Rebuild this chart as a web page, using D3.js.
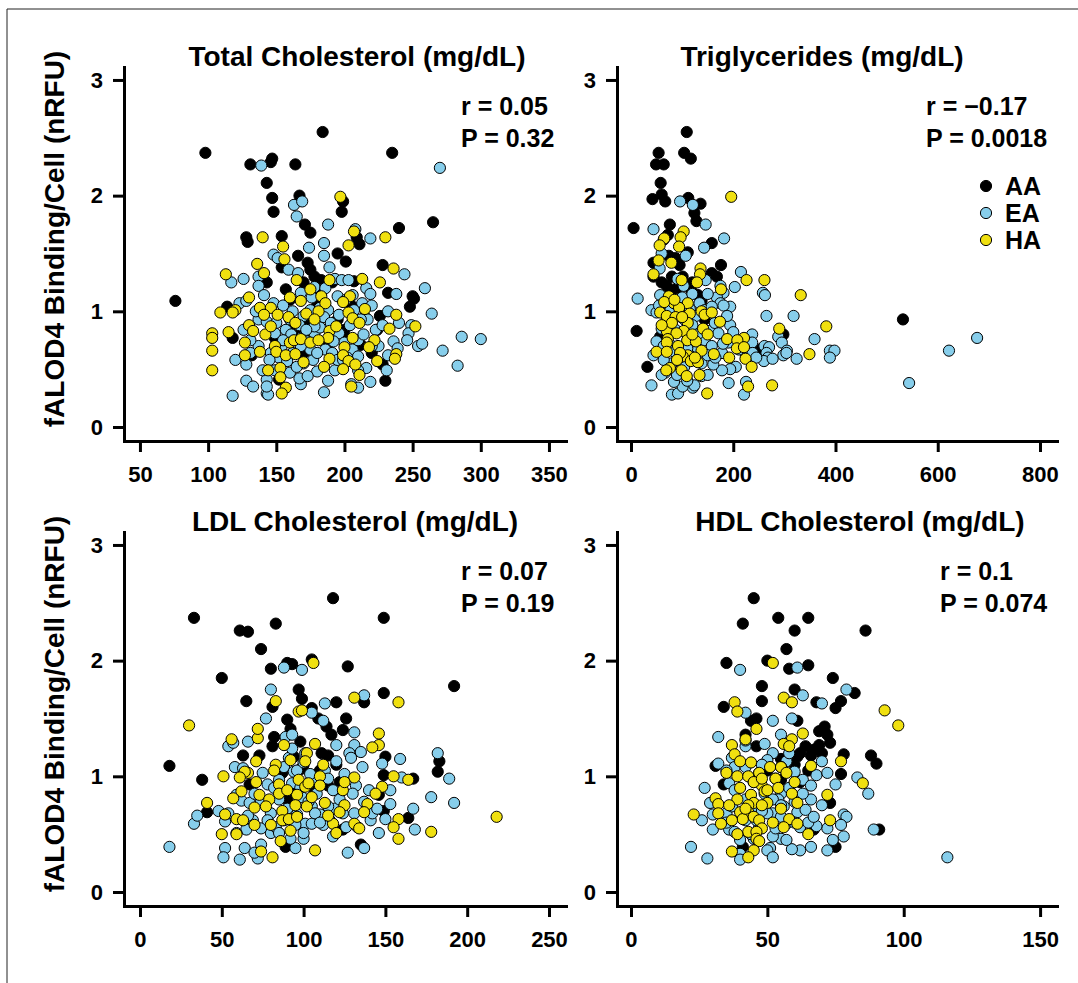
<!DOCTYPE html>
<html>
<head>
<meta charset="utf-8">
<script src="https://cdn.jsdelivr.net/npm/d3@7"></script>
<style>
body{margin:0;background:#fff;}
svg text{font-family:"Liberation Sans",Arial,Helvetica,sans-serif;font-weight:bold;fill:#000;}
</style>
</head>
<body>
<svg id="chart" width="1078" height="983"></svg>
<script>
// group names and colours
const groups = ["AA", "EA", "HA"];
const groupFill = ["#000000", "#87ceeb", "#f0e010"];

const titles = ["Total Cholesterol (mg/dL)", "Triglycerides (mg/dL)", "LDL Cholesterol (mg/dL)", "HDL Cholesterol (mg/dL)"];
const statR = ["r = 0.05", "r = \u22120.17", "r = 0.07", "r = 0.1"];
const statP = ["P = 0.32", "P = 0.0018", "P = 0.19", "P = 0.074"];

const yTicks = [0, 1, 2, 3];
const tcTicks = [50, 100, 150, 200, 250, 300, 350];
const trTicks = [0, 200, 400, 600, 800];
const ldTicks = [0, 50, 100, 150, 200, 250];
const hdTicks = [0, 50, 100, 150];

// Total cholesterol
const tcAA = [[76,1.09],[98,2.37],[131,2.27],[146,2.29],[147,2.32],[164,2.27],[184,2.55],[235,2.37],[143,2.11],[147,1.98],[148,1.86],[167,2.00],[199,1.95],[198,1.86],[265,1.77],[240,1.72],[171,1.75],[175,1.68],[128,1.64],[129,1.60],[154,1.65],[209,1.64],[211,1.58],[195,1.50],[201,1.43],[166,1.48],[173,1.42],[175,1.36],[178,1.30],[228,1.40],[154,1.38],[143,1.25],[157,1.19],[183,1.27],[191,1.25],[207,1.26],[232,1.16],[250,1.13],[251,1.11],[248,1.04],[114,1.04],[118,0.77],[149,0.77],[173,0.91],[195,0.93],[226,0.96],[224,0.84],[228,0.54],[230,0.40],[212,0.71],[220,0.64],[187,0.70],[152,0.41],[132,0.62],[165,0.81],[200,0.84],[160,1.10],[170,0.64],[183,1.16],[199,0.81],[180,1.05],[186,1.00],[170,1.25],[205,1.05],[215,0.95],[160,0.86],[177,0.78]];
const tcEA = [[139,2.26],[270,2.24],[163,1.92],[169,1.95],[165,1.82],[188,1.75],[185,1.59],[174,1.55],[208,1.71],[219,1.63],[148,1.49],[151,1.46],[185,1.48],[189,1.38],[159,1.36],[166,1.33],[244,1.32],[117,1.25],[126,1.28],[137,1.30],[137,1.22],[193,1.28],[198,1.27],[203,1.27],[216,1.20],[219,1.15],[259,1.20],[238,1.15],[141,1.14],[178,1.21],[168,1.16],[123,1.07],[128,1.09],[148,1.07],[195,1.13],[206,1.14],[213,1.07],[232,1.00],[264,0.98],[249,0.88],[247,0.81],[246,0.75],[254,0.70],[257,0.72],[236,0.74],[239,0.68],[232,0.62],[272,0.66],[286,0.78],[300,0.76],[283,0.53],[120,0.58],[128,0.54],[118,0.27],[128,0.40],[133,0.35],[143,0.29],[144,0.28],[143,0.41],[143,0.35],[168,0.37],[185,0.30],[205,0.37],[210,0.34],[219,0.39],[216,0.51],[193,0.49],[180,0.48],[167,0.42],[160,0.47],[170,0.55],[177,0.58],[152,0.60],[137,0.70],[131,0.75],[126,0.84],[137,0.93],[143,0.91],[157,0.84],[161,0.80],[168,0.77],[173,0.74],[178,0.81],[182,0.86],[186,0.67],[191,0.64],[196,0.81],[200,0.73],[206,0.67],[210,0.61],[217,0.93],[223,0.84],[170,0.96],[175,1.01],[182,1.03],[188,1.01],[160,0.93],[154,0.70],[146,0.64],[195,0.58],[225,0.70],[210,0.75],[175,0.67],[162,0.64],[207,1.01],[201,1.10],[212,0.93],[178,0.87],[149,0.81],[131,0.64],[140,0.49],[149,0.49],[199,0.58],[210,0.49],[231,0.49],[173,0.44],[168,0.70],[155,1.05],[162,1.00],[167,0.88],[172,0.84],[185,0.95],[190,0.90],[196,0.97],[204,0.88],[214,0.80],[220,0.70],[158,0.57],[165,0.52],[150,0.90],[155,0.75],[180,0.64],[192,0.74],[202,0.60],[228,0.88],[240,0.90],[135,1.00],[176,1.12],[186,1.20],[220,1.05],[145,0.58],[188,0.40]];
const tcHA = [[197,1.99],[140,1.64],[207,1.69],[203,1.57],[230,1.64],[155,1.56],[156,1.45],[136,1.41],[236,1.37],[113,1.32],[141,1.33],[165,1.27],[213,1.28],[226,1.25],[189,1.27],[175,1.19],[130,1.12],[183,1.13],[204,1.13],[168,1.09],[186,1.07],[199,1.08],[109,0.99],[120,1.01],[118,0.99],[138,1.03],[146,1.03],[141,0.97],[151,0.97],[181,1.00],[203,0.99],[206,0.94],[211,0.90],[238,0.97],[159,0.95],[164,0.90],[130,0.88],[133,0.83],[103,0.81],[103,0.77],[115,0.82],[142,0.80],[189,0.83],[188,0.77],[206,0.77],[233,0.85],[252,0.87],[127,0.73],[160,0.73],[163,0.75],[168,0.76],[175,0.73],[181,0.75],[222,0.75],[103,0.66],[127,0.62],[138,0.65],[149,0.70],[150,0.65],[157,0.62],[164,0.63],[200,0.69],[199,0.62],[218,0.69],[238,0.63],[237,0.59],[189,0.59],[203,0.57],[208,0.54],[103,0.49],[144,0.49],[153,0.51],[185,0.52],[199,0.50],[211,0.45],[153,0.43],[157,0.34],[154,0.29],[205,0.35],[172,0.98],[178,0.93],[194,0.87],[215,1.02],[160,1.12],[146,0.87],[224,0.57],[170,0.56]];

// Triglycerides
const trAA = [[5,1.72],[11,0.83],[32,0.52],[54,2.37],[49,2.27],[64,2.27],[58,2.11],[42,1.97],[60,2.01],[67,1.95],[109,2.55],[104,2.37],[117,2.32],[112,1.98],[136,1.93],[124,1.85],[128,1.78],[76,1.75],[72,1.66],[64,1.62],[158,1.59],[111,1.51],[74,1.48],[87,1.46],[44,1.42],[176,1.40],[158,1.33],[168,1.30],[101,1.30],[44,1.30],[60,1.25],[70,1.22],[117,1.19],[131,1.14],[138,1.09],[532,0.93],[298,0.80],[251,0.67],[57,0.78],[90,0.97],[144,0.93],[77,1.16],[90,1.20],[100,1.05],[80,1.30],[120,1.25],[95,1.40],[60,1.05],[115,0.85]];
const trEA = [[96,1.95],[121,1.92],[146,1.75],[44,1.71],[182,1.63],[143,1.55],[107,1.48],[60,1.50],[56,1.37],[215,1.34],[146,1.27],[91,1.28],[103,1.22],[203,1.21],[175,1.22],[181,1.16],[258,1.16],[262,1.14],[13,1.11],[57,1.14],[168,1.12],[175,1.07],[194,1.04],[181,1.05],[134,1.07],[40,1.01],[50,0.99],[265,0.96],[318,0.96],[194,0.88],[154,0.83],[164,0.90],[359,0.76],[237,0.80],[288,0.78],[295,0.73],[305,0.66],[298,0.62],[304,0.64],[261,0.70],[270,0.69],[265,0.64],[268,0.60],[260,0.57],[277,0.59],[324,0.59],[389,0.66],[398,0.66],[389,0.60],[677,0.77],[622,0.66],[544,0.38],[237,0.73],[205,0.52],[194,0.50],[178,0.49],[161,0.54],[191,0.38],[225,0.39],[221,0.28],[40,0.36],[80,0.28],[92,0.29],[121,0.34],[124,0.36],[101,0.35],[84,0.39],[67,0.47],[80,0.55],[44,0.62],[50,0.74],[64,0.70],[131,0.67],[144,0.75],[158,0.70],[178,0.64],[121,0.81],[111,0.75],[70,0.93],[87,0.84],[104,0.93],[127,0.96],[144,1.01],[158,1.04],[77,1.01],[64,0.58],[104,0.52],[138,0.55],[117,0.61],[225,0.61],[238,0.64],[211,0.67],[190,0.73],[171,0.81],[188,0.96],[138,0.44],[60,0.85],[75,0.72],[85,0.65],[95,0.60],[110,0.68],[120,0.88],[130,0.80],[150,0.62],[165,0.60],[180,0.72],[200,0.82],[215,0.70],[55,1.05],[100,1.12],[120,1.15],[150,1.15],[245,0.60],[60,0.45],[90,0.45],[110,0.40],[150,0.45],[115,1.02]];
const trHA = [[196,1.99],[103,1.69],[97,1.64],[94,1.56],[65,1.63],[56,1.57],[79,1.42],[54,1.44],[44,1.32],[136,1.37],[135,1.32],[129,1.25],[99,1.27],[226,1.27],[261,1.27],[176,1.19],[332,1.14],[74,1.13],[84,1.07],[65,1.08],[111,1.07],[57,0.99],[70,0.96],[94,1.03],[115,0.98],[138,1.00],[144,0.97],[158,0.99],[87,0.95],[174,0.91],[111,0.90],[382,0.87],[290,0.85],[141,0.85],[70,0.83],[103,0.83],[89,0.81],[72,0.76],[110,0.75],[127,0.74],[188,0.76],[221,0.77],[208,0.75],[70,0.73],[92,0.70],[207,0.68],[221,0.69],[50,0.65],[70,0.65],[138,0.66],[162,0.63],[349,0.63],[111,0.62],[101,0.61],[96,0.64],[192,0.60],[224,0.59],[117,0.57],[131,0.56],[236,0.52],[76,0.51],[69,0.49],[99,0.49],[134,0.45],[109,0.44],[229,0.35],[276,0.36],[149,0.29],[80,0.90],[120,0.80],[100,0.95],[85,1.10],[60,0.88],[150,0.80],[125,0.60],[90,0.58]];

// LDL cholesterol
const ldAA = [[18,1.09],[33,2.37],[61,2.26],[66,2.25],[83,2.32],[118,2.54],[149,2.37],[74,2.10],[50,1.85],[80,1.93],[90,1.98],[93,1.97],[127,1.95],[105,2.01],[192,1.78],[65,1.65],[97,1.75],[99,1.67],[120,1.64],[149,1.72],[137,1.64],[81,1.60],[105,1.59],[109,1.50],[114,1.43],[126,1.50],[124,1.40],[90,1.49],[92,1.41],[117,1.36],[82,1.34],[81,1.26],[98,1.30],[63,1.18],[73,1.18],[111,1.20],[115,1.18],[150,1.17],[183,1.13],[182,1.04],[149,1.01],[38,0.97],[67,0.93],[167,0.98],[122,0.95],[107,0.87],[146,0.84],[41,0.69],[149,0.70],[164,0.64],[124,0.54],[135,0.41],[89,0.39],[98,1.06],[94,1.17],[87,1.03],[100,1.10],[105,0.98],[110,1.05],[115,0.92],[95,0.92],[120,1.10],[90,0.80]];
const ldEA = [[18,0.39],[33,0.59],[35,0.66],[48,0.70],[52,0.61],[52,0.38],[51,0.30],[61,0.28],[64,0.38],[72,0.29],[70,0.34],[74,0.41],[54,1.26],[57,1.29],[66,1.30],[77,1.50],[80,1.75],[88,1.94],[99,1.92],[113,1.63],[105,1.55],[112,1.48],[137,1.70],[131,1.38],[131,1.27],[120,1.27],[128,1.20],[129,1.16],[135,1.21],[136,1.08],[148,1.11],[159,1.15],[182,1.20],[189,0.98],[178,0.82],[192,0.77],[168,0.54],[167,0.72],[160,0.99],[153,0.88],[153,0.76],[150,0.63],[146,0.51],[141,0.62],[137,0.78],[132,0.92],[127,0.34],[137,0.38],[100,0.46],[95,0.38],[80,0.51],[74,0.55],[65,0.54],[59,0.84],[62,0.79],[58,1.08],[63,1.07],[75,1.03],[78,0.93],[85,0.97],[88,1.08],[91,1.16],[93,1.24],[89,1.34],[93,1.36],[94,1.04],[93,0.94],[99,0.82],[105,0.74],[110,0.67],[101,0.59],[96,0.67],[88,0.62],[83,0.56],[80,0.68],[74,0.78],[67,0.77],[69,0.62],[107,0.97],[113,1.05],[118,0.88],[120,1.13],[124,0.68],[119,0.72],[116,0.62],[131,0.68],[142,0.68],[133,0.56],[126,0.56],[112,0.58],[105,0.59],[100,0.51],[85,0.51],[54,0.68],[59,0.51],[107,0.68],[101,1.20],[96,1.05],[85,0.80],[90,0.72],[98,0.90],[103,0.78],[108,0.85],[115,0.74],[122,0.80],[110,0.60],[95,0.58],[78,0.62],[70,0.85],[82,0.90],[104,1.02],[115,0.98],[125,1.02],[130,0.85],[140,0.88],[92,0.46],[118,0.48],[145,0.72],[66,0.66],[100,1.12]];
const ldHA = [[30,1.44],[41,0.77],[51,1.00],[56,1.32],[72,1.33],[72,1.41],[83,1.65],[97,1.56],[99,1.57],[106,1.98],[131,1.68],[158,1.64],[146,1.37],[146,1.27],[142,1.25],[107,1.28],[88,1.27],[102,1.20],[101,1.13],[92,1.14],[71,1.13],[83,1.10],[82,1.05],[66,1.03],[64,1.04],[61,0.99],[110,1.00],[110,0.92],[131,0.99],[155,1.00],[164,0.97],[71,0.95],[85,0.93],[97,0.97],[101,0.91],[103,0.94],[148,0.91],[62,0.87],[73,0.84],[85,0.85],[96,0.84],[124,0.88],[144,0.85],[57,0.81],[79,0.80],[113,0.77],[125,0.75],[139,0.76],[70,0.73],[77,0.74],[102,0.74],[87,0.70],[122,0.69],[137,0.69],[52,0.67],[59,0.63],[63,0.62],[87,0.62],[91,0.63],[96,0.65],[158,0.63],[218,0.65],[118,0.59],[131,0.59],[134,0.55],[155,0.56],[50,0.50],[59,0.50],[92,0.53],[120,0.51],[178,0.52],[86,0.44],[158,0.46],[74,0.35],[107,0.36],[81,0.30],[90,0.88],[105,0.82],[115,0.66],[80,0.58],[125,0.95],[95,0.75],[112,1.10],[70,0.58]];

// HDL cholesterol
const hdAA = [[45,2.54],[41,2.32],[54,2.37],[65,2.37],[60,2.26],[86,2.26],[57,2.10],[35,1.98],[50,2.00],[58,1.93],[65,1.96],[74,1.85],[48,1.78],[60,1.75],[82,1.72],[77,1.65],[75,1.59],[48,1.65],[68,1.64],[34,1.60],[46,1.50],[44,1.48],[61,1.48],[71,1.43],[69,1.39],[72,1.36],[73,1.29],[64,1.26],[67,1.23],[69,1.27],[62,1.20],[66,1.18],[78,1.19],[88,1.18],[90,1.11],[77,1.02],[31,1.09],[34,0.93],[42,1.36],[46,1.26],[91,0.54],[67,0.54],[75,0.39],[41,0.39],[73,0.77],[55,0.97],[61,1.17],[60,1.10],[55,1.15],[65,1.05],[70,1.20],[50,1.05],[62,0.95]];
const hdEA = [[40,1.92],[61,1.94],[63,1.70],[70,1.63],[79,1.75],[59,1.50],[52,1.48],[42,1.55],[32,1.34],[55,1.36],[49,1.28],[42,1.26],[42,1.31],[52,1.20],[70,1.13],[32,1.11],[37,1.16],[38,1.08],[35,1.05],[50,1.14],[57,1.13],[60,1.04],[68,1.01],[72,1.03],[83,0.99],[63,0.97],[66,0.92],[75,0.93],[87,0.85],[27,0.90],[36,0.94],[55,0.85],[66,0.80],[29,0.77],[30,0.67],[26,0.62],[30,0.54],[36,0.54],[38,0.52],[42,0.62],[52,0.68],[56,0.74],[61,0.69],[64,0.71],[78,0.67],[79,0.65],[77,0.58],[72,0.55],[68,0.57],[78,0.48],[74,0.45],[72,0.36],[66,0.39],[62,0.36],[59,0.37],[55,0.46],[52,0.48],[51,0.38],[50,0.36],[52,0.30],[40,0.33],[40,0.28],[22,0.39],[28,0.29],[89,0.54],[116,0.30],[47,0.56],[45,0.74],[49,0.85],[54,0.80],[57,0.59],[62,0.56],[42,1.08],[47,1.03],[55,1.08],[58,1.20],[35,0.68],[37,0.74],[40,0.45],[45,0.46],[55,0.65],[50,0.68],[45,0.95],[48,0.70],[52,0.80],[55,0.75],[58,0.90],[60,0.60],[63,0.85],[46,0.62],[42,0.80],[38,0.88],[53,0.55],[57,0.45],[65,0.60],[70,0.75],[48,1.10],[53,0.98],[60,0.78],[67,0.65],[44,0.50],[35,0.60]];
const hdHA = [[52,1.98],[56,1.68],[59,1.64],[38,1.64],[39,1.56],[93,1.57],[98,1.44],[46,1.41],[63,1.37],[42,1.32],[59,1.32],[37,1.27],[38,1.19],[56,1.28],[58,1.26],[40,1.13],[44,1.12],[77,1.13],[66,1.09],[51,1.08],[55,1.08],[35,1.03],[47,1.03],[57,1.03],[39,1.00],[43,1.00],[53,0.98],[60,0.95],[85,0.94],[40,0.90],[48,0.92],[44,0.84],[49,0.87],[59,0.85],[72,0.84],[31,0.81],[39,0.80],[45,0.77],[50,0.77],[61,0.77],[32,0.76],[36,0.75],[43,0.75],[48,0.75],[32,0.68],[40,0.69],[43,0.69],[41,0.63],[45,0.65],[23,0.67],[33,0.59],[47,0.62],[58,0.63],[61,0.59],[73,0.62],[48,0.55],[56,0.56],[43,0.52],[46,0.52],[39,0.50],[65,0.50],[46,0.46],[47,0.44],[37,0.35],[45,0.36],[43,0.30],[45,0.95],[50,0.88],[42,0.72],[55,0.72],[52,0.60],[37,0.62],[48,0.98],[54,0.90]];

const svg = d3.select("#chart");

// outer frame (top and left edges only)
svg.append("line").attr("x1", 7).attr("y1", 9).attr("x2", 1078).attr("y2", 9).attr("stroke", "#222").attr("stroke-width", 1);
svg.append("line").attr("x1", 7).attr("y1", 9).attr("x2", 7).attr("y2", 983).attr("stroke", "#222").attr("stroke-width", 1);

const panels = [
    {title: 0, ticks: tcTicks, xd: [38.3, 362.5], xr: [124, 566], dy: 0, titleX: 357, statX: 461, sets: [tcAA, tcEA, tcHA]},
    {title: 1, ticks: trTicks, xd: [-27.4, 833.3], xr: [617, 1057], dy: 0, titleX: 822, statX: 926, sets: [trAA, trEA, trHA]},
    {title: 2, ticks: ldTicks, xd: [-9.78, 260.4], xr: [124, 566], dy: 465, titleX: 355, statX: 461, sets: [ldAA, ldEA, ldHA]},
    {title: 3, ticks: hdTicks, xd: [-5.13, 156.2], xr: [617, 1057], dy: 465, titleX: 860, statX: 940, sets: [hdAA, hdEA, hdHA]}
];

function styleAxis(a) {
    a.attr("font-size", 22).attr("font-family", null);
    a.select(".domain").attr("stroke-width", 3).attr("stroke-linecap", "square");
    a.selectAll(".tick line").attr("stroke-width", 3);
}

panels.forEach(function(p, i) {
    let x = d3.scaleLinear().domain(p.xd).range(p.xr);
    let y = d3.scaleLinear().domain([-0.121, 3.112]).range([441 + p.dy, 67 + p.dy]);

    let g = svg.append("g");

    g.append("g")
        .attr("transform", `translate(0,${y.range()[0]})`)
        .call(d3.axisBottom(x).tickValues(p.ticks).tickFormat(d3.format("d")).tickSize(11).tickSizeOuter(0).tickPadding(14))
        .call(styleAxis);

    g.append("g")
        .attr("transform", `translate(${p.xr[0]},0)`)
        .call(d3.axisLeft(y).tickValues(yTicks).tickFormat(d3.format("d")).tickSize(11).tickSizeOuter(0).tickPadding(10))
        .call(styleAxis);

    g.append("text")
        .attr("x", p.titleX)
        .attr("y", 66 + p.dy)
        .attr("text-anchor", "middle")
        .attr("font-size", 28)
        .text(titles[p.title]);

    g.append("text").attr("x", p.statX).attr("y", 115 + p.dy).attr("font-size", 25).text(statR[i]);
    g.append("text").attr("x", p.statX).attr("y", 147 + p.dy).attr("font-size", 25).text(statP[i]);

    p.sets.forEach(function(set, k) {
        g.append("g").selectAll("circle")
            .data(set)
            .join("circle")
            .attr("cx", d => x(d[0]))
            .attr("cy", d => y(d[1]))
            .attr("r", 5.6)
            .attr("fill", groupFill[k])
            .attr("stroke", "#000")
            .attr("stroke-width", 1);
    });

    // y axis title on the left column only
    if (p.xr[0] == 124) {
        g.append("text")
            .attr("transform", `translate(64,${239 + p.dy}) rotate(-90)`)
            .attr("text-anchor", "middle")
            .attr("font-size", 28)
            .text("fALOD4 Binding/Cell (nRFU)");
    }
});

// legend in the triglycerides panel
let leg = svg.append("g");
groups.forEach(function(name, k) {
    leg.append("circle")
        .attr("cx", 986)
        .attr("cy", 186 + k * 27)
        .attr("r", 5.6)
        .attr("fill", groupFill[k])
        .attr("stroke", "#000")
        .attr("stroke-width", 1);
    leg.append("text")
        .attr("x", 1005)
        .attr("y", 195 + k * 27)
        .attr("font-size", 25)
        .text(name);
});
</script>
</body>
</html>
